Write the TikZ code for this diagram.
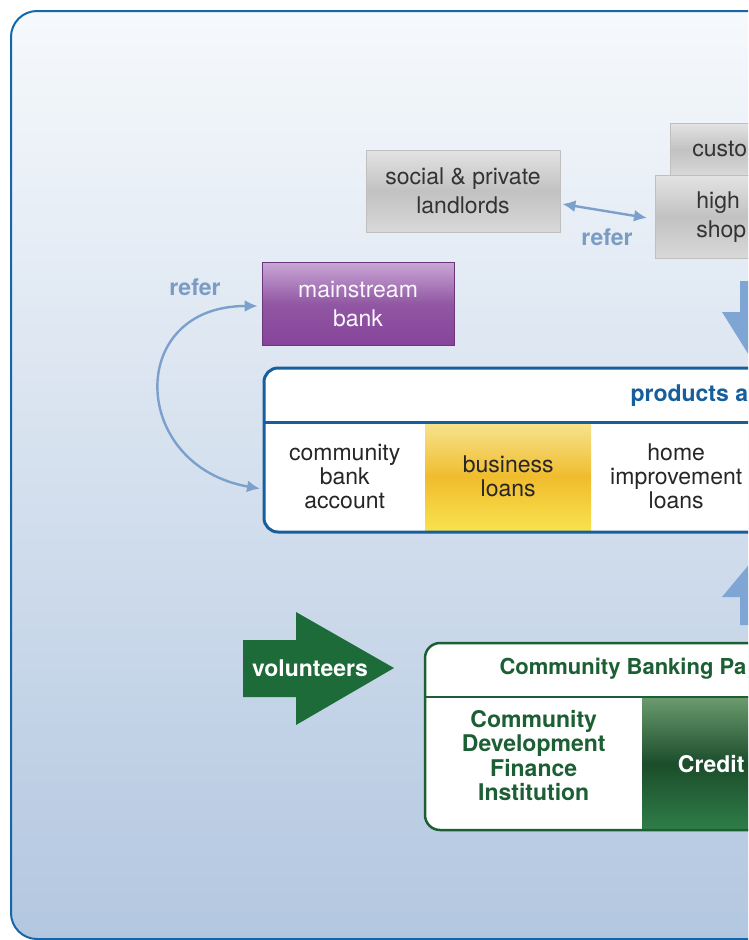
\documentclass[tikz,border=0pt]{standalone}
\usepackage{fontspec}
\setmainfont{TeX Gyre Heros}
\usetikzlibrary{arrows.meta}

\definecolor{frameblue}{HTML}{1666A9}
\definecolor{bgtop}{HTML}{F6F9FC}
\definecolor{bgbot}{HTML}{B3C7E0}
\definecolor{referblue}{HTML}{7BA0CC}
\definecolor{refertxt}{HTML}{7A9BC4}
\definecolor{arrowblue}{HTML}{7EA5D3}
\definecolor{prodblue}{HTML}{175E9C}
\definecolor{cbgreen}{HTML}{1D5F34}
\definecolor{volgreen}{HTML}{1D6B39}
\definecolor{purpletop}{HTML}{C9A6D6}
\definecolor{purplemid}{HTML}{9157A3}
\definecolor{purplebot}{HTML}{86449A}
\definecolor{yellowtop}{HTML}{F7E48E}
\definecolor{yellowmid}{HTML}{F0BC2E}
\definecolor{yellowbot}{HTML}{F9E24E}
\definecolor{greentop}{HTML}{6B9B6E}
\definecolor{greenmid}{HTML}{1B4D2B}
\definecolor{greenbot}{HTML}{2F7E48}

\begin{document}
\begin{tikzpicture}[x=1pt,y=-1pt,
  txt/.style={font=\fontsize{23}{24}\selectfont, text=black!85, align=center},
  btxt/.style={font=\fontsize{23}{24.5}\selectfont\bfseries, align=center},
  graybox/.style={draw=black!25, line width=0.8pt, top color=black!11, bottom color=black!15,
    middle color=black!24, font=\fontsize{23}{29}\selectfont, text=black!80, inner sep=0pt, align=center},
  cell/.style={txt, anchor=north west, minimum height=109pt, inner sep=0pt},
  referarrow/.style={draw=referblue, line width=2.4pt,
    {Latex[length=13pt,width=12pt]}-{Latex[length=13pt,width=12pt]}},
  refertext/.style={btxt, text=refertxt}]
\useasboundingbox (0,0) rectangle (748,940);
\clip (0,0) rectangle (748,940);
\fill[white] (0,0) rectangle (748,940);

% panel
\shadedraw[top color=bgtop, bottom color=bgbot, draw=frameblue, line width=2pt, rounded corners=26pt]
  (11,11) rectangle (800,939);

% partners on top
\node[graybox, minimum width=194pt, minimum height=82pt] (landlords) at (463,191) {social \& private\\landlords};
\node[graybox, anchor=north west, minimum height=52pt, text width=110pt, inner xsep=22pt, align=left]
  (customers) at (670,123) {custo};
\node[graybox, anchor=north west, minimum height=83pt, text width=110pt, inner xsep=41pt, align=left]
  (high) at (655,175) {high\\shop};
\draw[referarrow] ([xshift=2pt,yshift=-13pt]landlords.east) -- ([xshift=-8pt,yshift=-1pt]high.west);
\node[refertext] (refer1) at (607,237) {refer};

\node[graybox, draw=purplebot!80!black, top color=purpletop, bottom color=purplebot, middle color=purplemid,
  text=white!92!purpletop, minimum width=192pt, minimum height=83pt] (bank) at (358,304) {mainstream\\bank};
\node[refertext] (refer2) at (195,287) {refer};

% products
\fill[white, rounded corners=14pt] (264,368) rectangle (800,532);
\node[cell, minimum width=161pt] (account) at (264,422) {community\\bank\\account};
\node[cell, minimum width=166pt, top color=yellowtop, bottom color=yellowbot, middle color=yellowmid]
  (business) at (425,422) {business\\loans};
\node[cell, minimum width=170pt] (homeloans) at (591,422) {home\\improvement\\loans};
\node[btxt, text=prodblue, anchor=west] (products) at (627,396) {products a};
\draw[prodblue, line width=3pt, rounded corners=14pt] (264,368) rectangle (800,532);
\draw[prodblue, line width=3pt] (264,422) -- (800,422);

\draw[referarrow] ([xshift=-4pt,yshift=-2pt]bank.west) to[out=180, in=170, looseness=1.85]
  ([xshift=-4pt,yshift=-12pt]account.west);

% block arrows
\fill[arrowblue] (740,281) -- (774,281) -- (774,312) -- (792,312) -- (757,368) -- (722,312) -- (740,312) -- cycle;
\fill[arrowblue] (757,555) -- (792,597) -- (774,597) -- (774,625) -- (740,625) -- (740,597) -- (722,597) -- cycle;
\fill[volgreen] (243,640) -- (296,640) -- (296,612) -- (394,668) -- (296,725) -- (296,697) -- (243,697) -- cycle;
\node[btxt, text=white] (volunteers) at (310,668) {volunteers};

% partnership
\fill[white, rounded corners=15pt] (425,643) rectangle (800,830);
\node[btxt, text=cbgreen, minimum width=217pt, minimum height=117pt, anchor=north west]
  (cdfi) at (425,697) {Community\\Development\\Finance\\Institution};
\node[btxt, text=white, anchor=north west, minimum width=138pt, minimum height=133pt, inner sep=0pt,
  top color=greentop, bottom color=greenbot, middle color=greenmid] (credit) at (642,697) {Credit};
\node[btxt, font=\fontsize{22}{24}\selectfont\bfseries, text=cbgreen, anchor=west] (cbp) at (496,669) {Community Banking Pa};
\draw[cbgreen, line width=2.5pt, rounded corners=15pt] (425,643) rectangle (800,830);
\draw[cbgreen, line width=2.5pt] (425,697) -- (800,697);
\end{tikzpicture}
\end{document}
